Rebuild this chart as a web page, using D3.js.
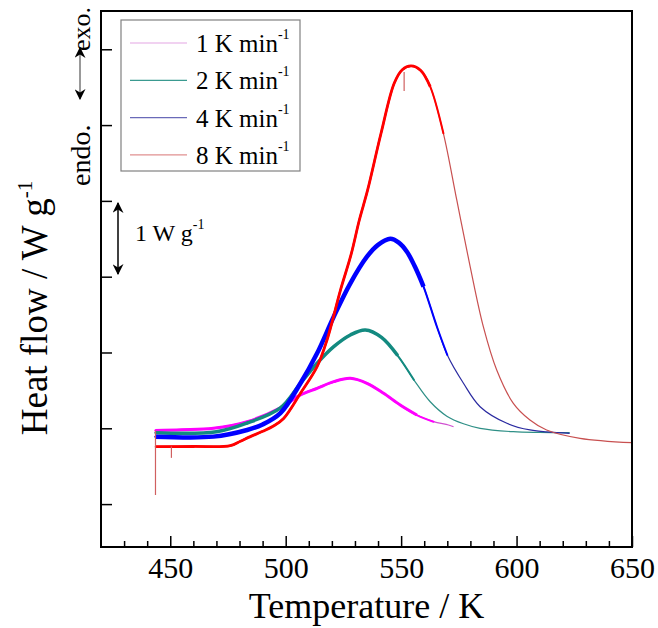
<!DOCTYPE html>
<html lang="en">
<head>
<meta charset="UTF-8">
<title>Heat flow vs temperature</title>
<script src="https://cdn.jsdelivr.net/npm/d3@7"></script>
<style>
  body { margin: 0; background: #fff; }
  svg { display: block; }
  svg text { font-family: "Liberation Serif", "Times New Roman", serif; fill: #000; }
</style>
</head>
<body>
<svg id="chart" width="658" height="628"></svg>
<script>
// heating rates, legend order
const rates = ["1", "2", "4", "8"];

// 1 K/min
const temp1 = [443.5, 455, 468.7, 483.3, 497.7, 506.4, 513.6, 520.8, 528, 535.2, 542.4, 549.6, 556.8, 564, 570.5, 572.7];
const flow1 = [-0.03, -0.02, 0, 0.087, 0.27, 0.44, 0.528, 0.615, 0.66, 0.594, 0.462, 0.307, 0.175, 0.087, 0.044, 0.02];

// 2 K/min
const temp2 = [443.5, 470, 483.3, 497.7, 506.4, 513.6, 520.8, 528, 534.5, 541.5, 548.5, 555.5, 562.6, 569.8, 577, 584.2, 598.6, 610, 623];
const flow2 = [-0.058, -0.045, 0.07, 0.27, 0.594, 0.858, 1.077, 1.231, 1.297, 1.2, 0.96, 0.64, 0.35, 0.16, 0.06, 0.0, -0.045, -0.055, -0.058];

// 4 K/min
const temp4 = [443.5, 468.7, 483.3, 490, 497.7, 506.4, 513.6, 520.8, 528, 535.2, 540, 545.3, 549, 552.5, 556, 559.7, 565.5, 570, 577, 584.2, 595.8, 605.8, 623];
const flow4 = [-0.11, -0.11, -0.022, 0.05, 0.2, 0.594, 0.989, 1.472, 1.913, 2.264, 2.42, 2.5, 2.45, 2.33, 2.13, 1.87, 1.34, 0.967, 0.594, 0.285, 0.066, -0.022, -0.066];

// 8 K/min
const temp8 = [443.7, 460, 476, 480.4, 484.7, 490, 494.7, 499.1, 506.4, 513.6, 517.9, 523.7, 528.3, 531.9, 535.5, 541.3, 547, 550.5, 554.3, 558.5, 562.6, 568.3, 574.1, 579.9, 585.6, 591.4, 598.6, 605.8, 613, 627.5, 650];
const flow8 = [-0.243, -0.24, -0.23, -0.17, -0.11, -0.04, 0.03, 0.13, 0.462, 0.813, 1.165, 1.82, 2.29, 2.748, 3.144, 3.892, 4.551, 4.73, 4.78, 4.72, 4.507, 3.892, 3.012, 2.132, 1.34, 0.769, 0.33, 0.11, -0.022, -0.132, -0.19];

// spikes in the 8 K/min trace
const spikeTemp = [443.6, 450.5, 551.3];
const spikeTop = [-0.03, -0.24, 4.7];
const spikeBottom = [-0.88, -0.39, 4.45];

const xTicks = [450, 500, 550, 600, 650];
const xMinor = d3.range(430, 650, 10);
const yTicks = [-1, 0, 1, 2, 3, 4, 5];

const series = [
  { rate: rates[0], temp: temp1, flow: flow1, thick: "#ff00ff", thin: "#d050d0", legend: "#e4a6e4", width: 3, until: 562 },
  { rate: rates[1], temp: temp2, flow: flow2, thick: "#138a80", thin: "#2e8f86", legend: "#3a9a90", width: 3.5, until: 554 },
  { rate: rates[2], temp: temp4, flow: flow4, thick: "#0000ff", thin: "#2a2aa0", legend: "#6a6ab8", width: 4.5, until: 562 },
  { rate: rates[3], temp: temp8, flow: flow8, thick: "#ff0000", thin: "#c85050", legend: "#e09090", width: 2.8, until: 566 }
];

const svg = d3.select("#chart");
const pLeft = 101, pRight = 632, pTop = 11, pBottom = 547;

const x = d3.scaleLinear().domain([420, 650]).range([pLeft, pRight]);
const y = d3.scaleLinear().domain([-1.566, 5.505]).range([pBottom, pTop]);

const defs = svg.append("defs");
defs.append("clipPath").attr("id", "plot")
  .append("rect").attr("x", pLeft).attr("y", pTop)
  .attr("width", pRight - pLeft).attr("height", pBottom - pTop);

const line = d3.line()
  .x(d => x(d[0]))
  .y(d => y(d[1]))
  .curve(d3.curveCatmullRom.alpha(0.5));

const plot = svg.append("g").attr("clip-path", "url(#plot)");

series.forEach(s => {
  const pts = s.temp.map((t, i) => [t, s.flow[i]]);
  // clean tail, a slightly heavier transition, then the noisy low-T band
  plot.append("path")
    .attr("d", line(pts))
    .attr("fill", "none")
    .attr("stroke", s.thin)
    .attr("stroke-width", 1.2);
  plot.append("path")
    .attr("d", line(pts.filter(p => p[0] <= s.until + 8)))
    .attr("fill", "none")
    .attr("stroke", s.thick)
    .attr("stroke-width", 2)
    .attr("stroke-linecap", "round");
  plot.append("path")
    .attr("d", line(pts.filter(p => p[0] <= s.until)))
    .attr("fill", "none")
    .attr("stroke", s.thick)
    .attr("stroke-width", s.width)
    .attr("stroke-linejoin", "round");
});

plot.selectAll("line.spike")
  .data(spikeTemp)
  .enter().append("line")
  .attr("class", "spike")
  .attr("x1", d => x(d)).attr("x2", d => x(d))
  .attr("y1", (d, i) => y(spikeTop[i]))
  .attr("y2", (d, i) => y(spikeBottom[i]))
  .attr("stroke", "#d06060")
  .attr("stroke-width", 1.2);

// axes
const xAxis = svg.append("g")
  .attr("transform", `translate(0,${pBottom})`)
  .call(d3.axisBottom(x).tickValues(xTicks).tickSize(-11).tickPadding(10));
xAxis.attr("font-family", null).attr("font-size", null);
xAxis.select(".domain").remove();
xAxis.selectAll("line").attr("stroke-width", 1.5);
xAxis.selectAll("text").style("font-size", "30px");

const xMinorAxis = svg.append("g")
  .attr("transform", `translate(0,${pBottom})`)
  .call(d3.axisBottom(x).tickValues(xMinor.filter(v => !xTicks.includes(v))).tickSize(-6).tickFormat(""));
xMinorAxis.select(".domain").remove();
xMinorAxis.selectAll("line").attr("stroke-width", 1.5);

const yAxis = svg.append("g")
  .attr("transform", `translate(${pLeft},0)`)
  .call(d3.axisLeft(y).tickValues(yTicks).tickSize(-11).tickFormat(""));
yAxis.select(".domain").remove();
yAxis.selectAll("line").attr("stroke-width", 1.5);

svg.append("rect")
  .attr("x", pLeft).attr("y", pTop)
  .attr("width", pRight - pLeft).attr("height", pBottom - pTop)
  .attr("fill", "none").attr("stroke", "#000").attr("stroke-width", 2);

// axis titles
svg.append("text")
  .attr("x", (pLeft + pRight) / 2).attr("y", 618)
  .attr("text-anchor", "middle").style("font-size", "36px")
  .text("Temperature / K");

const yTitle = svg.append("text")
  .attr("transform", "translate(47,308) rotate(-90)")
  .attr("text-anchor", "middle").style("font-size", "37px");
yTitle.append("tspan").text("Heat flow / W g");
yTitle.append("tspan").attr("dy", -15).style("font-size", "21px").text("-1");

// legend
const legend = svg.append("g");
legend.append("rect")
  .attr("x", 121).attr("y", 20).attr("width", 179).attr("height", 151)
  .attr("fill", "#fff").attr("stroke", "#808080").attr("stroke-width", 1.2);
series.forEach((s, i) => {
  const ly = 43 + i * 37.3;
  legend.append("line")
    .attr("x1", 130).attr("x2", 187).attr("y1", ly).attr("y2", ly)
    .attr("stroke", s.legend).attr("stroke-width", 1.2);
  const t = legend.append("text").attr("x", 196).attr("y", ly + 9).style("font-size", "25px");
  t.append("tspan").text(`${s.rate} K min`);
  t.append("tspan").attr("dy", -13).style("font-size", "14px").text("-1");
});

// arrow heads
defs.append("marker").attr("id", "head")
  .attr("viewBox", "0 0 10 10").attr("refX", 9).attr("refY", 5)
  .attr("markerWidth", 11).attr("markerHeight", 11)
  .attr("markerUnits", "userSpaceOnUse").attr("orient", "auto-start-reverse")
  .append("path").attr("d", "M0,0 L10,5 L0,10 L3,5 Z").attr("fill", "#000");

// exo / endo marker
svg.append("line")
  .attr("x1", 80).attr("x2", 80).attr("y1", 48).attr("y2", 99)
  .attr("stroke", "#777").attr("stroke-width", 1.5)
  .attr("marker-start", "url(#head)").attr("marker-end", "url(#head)");
svg.append("text")
  .attr("transform", "translate(90,7) rotate(-90)")
  .attr("text-anchor", "end").style("font-size", "26px")
  .text("exo.");
svg.append("text")
  .attr("transform", "translate(90,186) rotate(-90)")
  .attr("text-anchor", "start").style("font-size", "28px")
  .text("endo.");

// 1 W/g scale bar
svg.append("line")
  .attr("x1", 118).attr("x2", 118).attr("y1", 203).attr("y2", 274)
  .attr("stroke", "#000").attr("stroke-width", 1.5)
  .attr("marker-start", "url(#head)").attr("marker-end", "url(#head)");
const unit = svg.append("text").attr("x", 135).attr("y", 241).style("font-size", "24px");
unit.append("tspan").text("1 W g");
unit.append("tspan").attr("dy", -12).style("font-size", "14px").text("-1");
</script>
</body>
</html>
